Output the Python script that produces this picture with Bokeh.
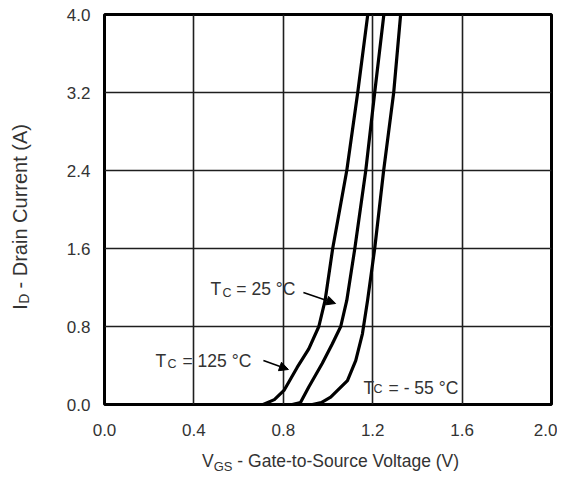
from bokeh.plotting import figure
from bokeh.models import Range1d, FixedTicker, Label, Arrow, NormalHead, PrintfTickFormatter, Div
from bokeh.layouts import row, column
from bokeh.embed import file_html
from bokeh.resources import INLINE

# ---- data ----
x_ticks = [0.0, 0.4, 0.8, 1.2, 1.6, 2.0]
y_ticks = [0.0, 0.8, 1.6, 2.4, 3.2, 4.0]

vgs_125 = [0.71, 0.76, 0.803, 0.862, 0.914, 0.959, 0.987, 1.021, 1.084, 1.133, 1.178]
id_125 = [0.0, 0.05, 0.144, 0.38, 0.57, 0.8, 1.067, 1.6, 2.4, 3.2, 4.0]

vgs_25 = [0.84, 0.877, 0.914, 0.974, 1.019, 1.057, 1.084, 1.12, 1.169, 1.209, 1.25]
id_25 = [0.0, 0.02, 0.18, 0.42, 0.62, 0.8, 1.067, 1.6, 2.4, 3.2, 4.0]

vgs_m55 = [0.93, 0.97, 1.012, 1.087, 1.124, 1.154, 1.177, 1.209, 1.249, 1.294, 1.325]
id_m55 = [0.0, 0.02, 0.075, 0.246, 0.45, 0.725, 1.067, 1.6, 2.4, 3.2, 4.0]

x_title_main = "- Gate-to-Source Voltage (V)"
y_title_main = "- Drain Current (A)"

FONT = "Liberation Sans"
TXT = "#333333"
ANN = "17.5px"
SUB = "12.5px"

p = figure(width=517, height=444, output_backend="svg", toolbar_location=None,
           x_range=Range1d(0, 2.0), y_range=Range1d(0, 4.0),
           min_border_left=64, min_border_right=6, min_border_top=14, min_border_bottom=40)
p.background_fill_color = "white"
p.border_fill_color = "white"
p.outline_line_color = "black"
p.outline_line_width = 3

for ax in (p.xaxis, p.yaxis):
    ax.axis_line_color = None
    ax.major_tick_line_color = None
    ax.minor_tick_line_color = None
    ax.major_label_text_font = FONT
    ax.major_label_text_font_size = "17px"
    ax.major_label_text_color = TXT
    ax.formatter = PrintfTickFormatter(format="%.1f")
p.xaxis.ticker = FixedTicker(ticks=x_ticks)
p.yaxis.ticker = FixedTicker(ticks=y_ticks)
p.xaxis.major_label_standoff = 13
p.yaxis.major_label_standoff = 8

p.xgrid.ticker = FixedTicker(ticks=x_ticks)
p.ygrid.ticker = FixedTicker(ticks=y_ticks)
for g in (p.xgrid, p.ygrid):
    g.grid_line_color = "#1e1e1e"
    g.grid_line_width = 1.6

for xs, ys in ((vgs_125, id_125), (vgs_25, id_25), (vgs_m55, id_m55)):
    p.line(xs, ys, line_color="black", line_width=3.2, line_join="round", line_cap="round")

def lab(x, y, text, size=ANN):
    p.add_layout(Label(x=x, y=y, text=text, text_font=FONT, text_font_size=size,
                       text_color=TXT, text_align="left", text_baseline="alphabetic"))

def blank(x, y, text):
    # white box behind an annotation, interrupting the grid like the original
    p.add_layout(Label(x=x, y=y, text=text, text_font=FONT, text_font_size=ANN,
                       text_alpha=0.0, text_align="left", text_baseline="alphabetic",
                       background_fill_color="white", padding=4))

# curve annotations
blank(0.462, 1.18, "TC = 25 °C ")
blank(0.216, 0.451, "TC = 125 °C ")
blank(1.147, 0.174, "TC = - 55 °C ")

lab(0.474, 1.18, "T")
lab(0.528, 1.139, "C", size=SUB)
lab(0.590, 1.18, "= 25 °C")

lab(0.228, 0.451, "T")
lab(0.282, 0.42, "C", size=SUB)
lab(0.349, 0.451, "= 125 °C")

lab(1.159, 0.174, "T")
lab(1.204, 0.154, "C", size=SUB)
lab(1.271, 0.174, "= - 55 °C")

p.add_layout(Arrow(x_start=0.890, y_start=1.149, x_end=1.034, y_end=1.036,
                   line_color="black", line_width=1.6,
                   end=NormalHead(size=9, fill_color="black", line_color="black")))
p.add_layout(Arrow(x_start=0.711, y_start=0.451, x_end=0.823, y_end=0.359,
                   line_color="black", line_width=1.6,
                   end=NormalHead(size=9, fill_color="black", line_color="black")))

# axis titles with subscripts (HTML text)
xdiv = Div(width=517, height=28, margin=0, text=(
    f'<div style="margin:0; padding:7px 0 0 162px; white-space:nowrap; line-height:20px; '
    f'font-family:\'{FONT}\'; font-size:17.5px; color:{TXT};">'
    f'V<span style="font-size:13px; position:relative; top:4px;">GS</span> {x_title_main}</div>'))

ydiv = Div(width=40, height=472, margin=0, text=(
    f'<div style="margin:0; height:310px; width:40px; display:flex; flex-direction:column; '
    f'justify-content:flex-end; align-items:flex-start;">'
    f'<div style="margin-left:10px; writing-mode:vertical-rl; transform:rotate(180deg); '
    f'white-space:nowrap; line-height:21px; font-family:\'{FONT}\'; font-size:20px; color:{TXT};">'
    f'I<span style="font-size:14px; position:relative; right:4px;">D</span> {y_title_main}</div></div>'))

layout = row(ydiv, column(p, xdiv, spacing=0), spacing=0)

open("out.html", "w").write(file_html(layout, INLINE))
